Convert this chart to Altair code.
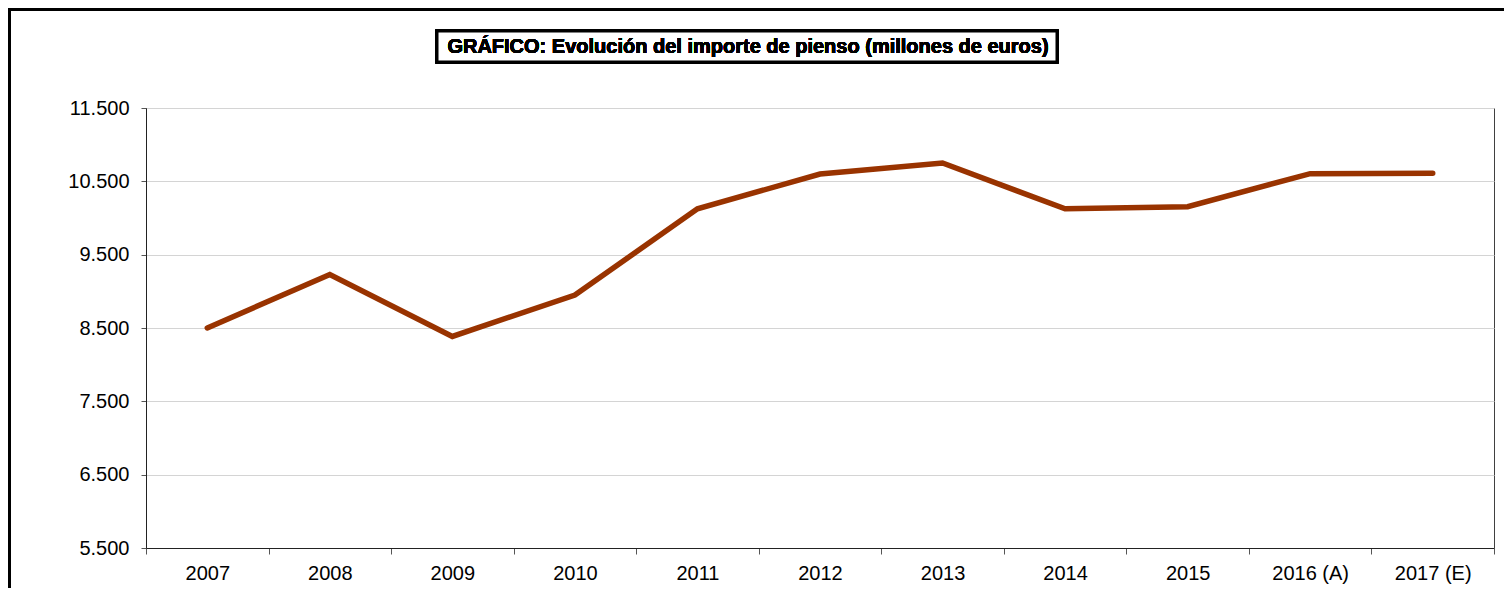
import altair as alt
import pandas as pd

years = ["2007", "2008", "2009", "2010", "2011", "2012", "2013", "2014", "2015", "2016 (A)", "2017 (E)"]
values = [8500, 9230, 8385, 8950, 10125, 10600, 10750, 10125, 10155, 10605, 10610]
y_ticks = [5500, 6500, 7500, 8500, 9500, 10500, 11500]
title_text = "GRÁFICO: Evolución del importe de pienso (millones de euros)"

df = pd.DataFrame({"year": years, "value": values})
FONT = "Liberation Sans"

base = alt.Chart(df)

line = base.mark_line(color="#993300", strokeWidth=5.5, strokeCap="round").encode(
    x=alt.X(
        "year:N",
        sort=None,
        bandPosition=0.5,
        scale=alt.Scale(type="band", paddingInner=0, paddingOuter=0),
        axis=alt.Axis(
            title=None,
            labelAngle=0,
            tickBand="extent",
            tickSize=6,
            tickColor="#555555",
            domainColor="#222222",
            labelFontSize=20,
            labelFont=FONT,
            labelColor="#000000",
            labelPadding=9,
            grid=False,
        ),
    ),
    y=alt.Y(
        "value:Q",
        scale=alt.Scale(domain=[5500, 11500], nice=False, zero=False),
        axis=alt.Axis(
            title=None,
            values=y_ticks,
            labelExpr="replace(format(datum.value, ',.0f'), ',', '.')",
            tickSize=5,
            tickColor="#555555",
            domainColor="#222222",
            gridColor="#d4d4d4",
            labelFontSize=20,
            labelFont=FONT,
            labelColor="#000000",
            labelPadding=12,
        ),
    ),
)

title_box = alt.Chart(df).mark_rect(fill="white", stroke="black", strokeWidth=3).encode(
    x=alt.value(291), x2=alt.value(911), y=alt.value(-77), y2=alt.value(-46)
)
title_mark = alt.Chart(df).mark_text(
    text=title_text, font=FONT, fontSize=20, fontWeight="bold", color="black",
    align="center", baseline="middle"
).encode(x=alt.value(602), y=alt.value(-61))

frame = alt.Chart(df).mark_rect(fill=None, stroke="black", strokeWidth=3).encode(
    x=alt.value(-136.5), x2=alt.value(1400), y=alt.value(-98.5), y2=alt.value(700)
)

chart = alt.layer(frame, line, title_box, title_mark).properties(
    width=1348,
    height=440,
    padding={"left": 138, "top": 100, "right": 10, "bottom": 40},
    autosize=alt.AutoSizeParams(type="none"),
    background="white",
).configure_view(stroke="#404040", strokeWidth=1)

chart.save("out.html", embed_options={"renderer": "svg", "actions": False})
